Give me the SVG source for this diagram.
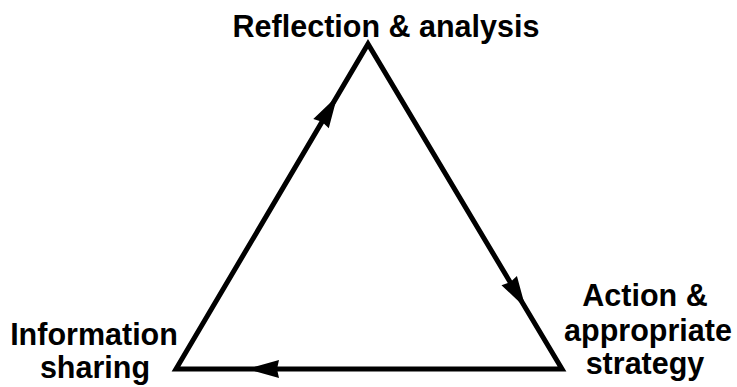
<svg xmlns="http://www.w3.org/2000/svg" xmlns:xlink="http://www.w3.org/1999/xlink" width="737" height="387" viewBox="0 0 737 387">
  <style>
    .lbl { font-family: "Liberation Sans", Arial, sans-serif; font-weight: bold; font-size: 30.5px; fill: #000; text-anchor: middle; }
    .edge { fill: none; stroke: #000; stroke-width: 5; stroke-linejoin: miter; stroke-miterlimit: 10; }
    .head { fill: #000; stroke: none; }
  </style>
  <defs>
    <path id="ah" class="head" d="M0,0 L-32,-9 L-30,0 L-32,9 Z"/>
  </defs>
  <rect width="737" height="387" fill="#fff"/>
  <g id="connectors">
    <path class="edge" d="M176,369 L368,44 L562,369 Z"/>
    <use xlink:href="#ah" transform="translate(337.3,96) rotate(-59.43)"/>
    <use xlink:href="#ah" transform="translate(525.6,308) rotate(59.17)"/>
    <use xlink:href="#ah" transform="translate(247,369) rotate(180)"/>
  </g>
  <g id="node-reflection">
    <text class="lbl" x="386" y="37">Reflection &amp; analysis</text>
  </g>
  <g id="node-information">
    <text class="lbl" x="94" y="345">Information</text>
    <text class="lbl" x="95" y="378">sharing</text>
  </g>
  <g id="node-action">
    <text class="lbl" x="645" y="306">Action &amp;</text>
    <text class="lbl" x="648" y="341">appropriate</text>
    <text class="lbl" x="645" y="374">strategy</text>
  </g>
</svg>
